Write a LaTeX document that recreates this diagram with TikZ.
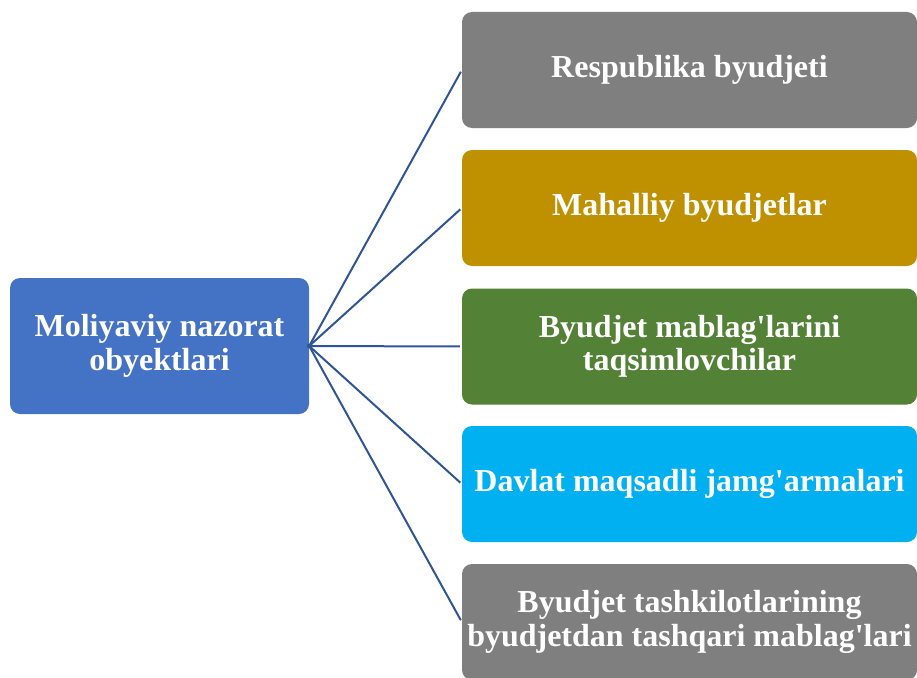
\documentclass[tikz,border=0pt]{standalone}
\usepackage{fontspec}
\setmainfont{Liberation Serif}[Ligatures=TeXOff]
\definecolor{mainblue}{HTML}{4472C4}
\definecolor{boxgray}{HTML}{7F7F7F}
\definecolor{boxgold}{HTML}{BF9000}
\definecolor{boxgreen}{HTML}{538135}
\definecolor{boxcyan}{HTML}{00B0F0}
\definecolor{linkblue}{HTML}{2F5597}
\begin{document}
\begin{tikzpicture}[x=1pt,y=-1pt,
    box/.style={rounded corners=10pt,text=white,align=center,inner sep=0pt,
        font=\fontsize{32}{33.5}\selectfont\bfseries},
    objbox/.style={box,minimum width=455pt,minimum height=116pt},
    link/.style={linkblue,line width=2pt}]
                \useasboundingbox (0,0) rectangle (917,677);
                %% main object
                \node[box,fill=mainblue,minimum width=299pt,minimum height=136pt] (M) at (159.5,346) {Moliyaviy nazorat\\obyektlari};
                %% objects of control
                \node[objbox,fill=boxgray] (R) at (689.5,70) {Respublika byudjeti};
                \node[objbox,fill=boxgold] (L) at (689.5,208) {Mahalliy byudjetlar};
                \node[objbox,fill=boxgreen] (T) at (689.5,346.5) {Byudjet mablag'larini\\taqsimlovchilar};
                \node[objbox,fill=boxcyan] (J) at (689.5,484) {Davlat maqsadli jamg'armalari};
                \node[objbox,fill=boxgray] (X) at (689.5,622) {Byudjet tashkilotlarining\\byudjetdan tashqari mablag'lari};
                %% links
                \foreach \n in {R,L,T,J,X}
                    \draw[link,shorten <=-2pt,shorten >=2pt] (M.east) -- (\n.west);
            \end{tikzpicture}
\end{document}
